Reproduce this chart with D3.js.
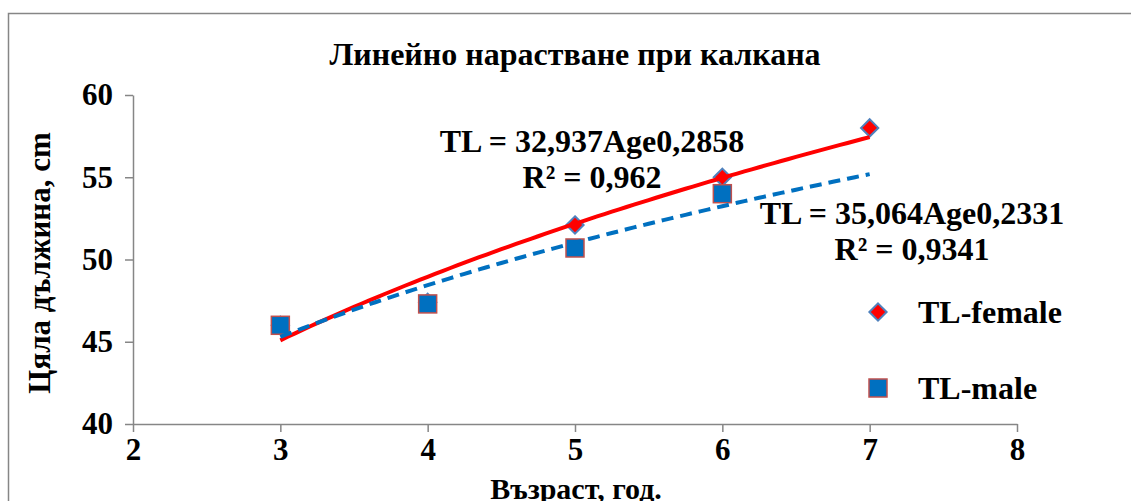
<!DOCTYPE html>
<meta charset="utf-8">
<style>
  body { margin: 0; background: #fff; }
  svg text { font-family: "Liberation Serif", "Times New Roman", serif; font-weight: bold; fill: #000; }
  .axis path, .axis line { stroke: #868686; stroke-width: 1.5; }
  .axis text { font-size: 31px; }
</style>
<body>
<svg width="1131" height="501"></svg>
<script src="https://cdn.jsdelivr.net/npm/d3@7/dist/d3.min.js"></script>
<script>
// data
var ages = [3, 4, 5, 6, 7];
var femaleTL = [46.0, 47.4, 52.1, 55.0, 58.0];
var maleAges = [3, 4, 5, 6];
var maleTL = [46.0, 47.3, 50.7, 54.0];

// power trendlines shown on the chart: TL = a * Age^b
var femaleFit = { a: 32.937, b: 0.2858, from: 3, to: 7 };
var maleFit = { a: 35.064, b: 0.2331, from: 3, to: 7 };

var xTicks = [2, 3, 4, 5, 6, 7, 8];
var yTicks = [40, 45, 50, 55, 60];

var svg = d3.select("svg");

// chart frame
svg.append("rect")
    .attr("x", 8.5).attr("y", 13.5)
    .attr("width", 1140).attr("height", 520)
    .attr("fill", "none")
    .attr("stroke", "#868686")
    .attr("stroke-width", 1.5);

var x = d3.scaleLinear().domain([2, 8]).range([133, 1017]);
var y = d3.scaleLinear().domain([40, 60]).range([424, 95]);

svg.append("g")
    .attr("class", "axis")
    .attr("transform", "translate(0,424)")
    .call(d3.axisBottom(x).tickValues(xTicks).tickFormat(d3.format("d"))
      .tickSize(8).tickSizeOuter(0).tickPadding(6));

svg.append("g")
    .attr("class", "axis")
    .attr("transform", "translate(133,0)")
    .call(d3.axisLeft(y).tickValues(yTicks).tickFormat(d3.format("d"))
      .tickSize(8).tickSizeOuter(0).tickPadding(12));

// title + axis titles
svg.append("text")
    .attr("x", 575).attr("y", 65)
    .attr("text-anchor", "middle")
    .style("font-size", "32px")
    .text("Линейно нарастване при калкана");

svg.append("text")
    .attr("transform", "translate(50,263) rotate(-90)")
    .attr("text-anchor", "middle")
    .style("font-size", "31px")
    .text("Цяла дължина, cm");

svg.append("text")
    .attr("x", 576).attr("y", 499)
    .attr("text-anchor", "middle")
    .style("font-size", "30px")
    .text("Възраст, год.");

// markers
var femaleData = ages.map(function(a, i) { return { age: a, tl: femaleTL[i] }; });
var maleData = maleAges.map(function(a, i) { return { age: a, tl: maleTL[i] }; });

var diamond = d3.symbol().type(d3.symbolDiamond2).size(190);

svg.append("g").selectAll("path")
    .data(femaleData)
    .enter().append("path")
      .attr("d", diamond)
      .attr("transform", function(d) { return "translate(" + x(d.age) + "," + y(d.tl) + ")"; })
      .attr("fill", "#ff0000")
      .attr("stroke", "#4f81bd")
      .attr("stroke-width", 2);

svg.append("g").selectAll("rect")
    .data(maleData)
    .enter().append("rect")
      .attr("x", function(d) { return x(d.age) - 9; })
      .attr("y", function(d) { return y(d.tl) - 9; })
      .attr("width", 18).attr("height", 18)
      .attr("fill", "#0070c0")
      .attr("stroke", "#c0504d")
      .attr("stroke-width", 1.5);

// trendlines
function fitPoints(f) {
  return d3.range(f.from, f.to + 0.001, 0.05).map(function(t) { return [t, f.a * Math.pow(t, f.b)]; });
}
var line = d3.line()
    .x(function(d) { return x(d[0]); })
    .y(function(d) { return y(d[1]); });

svg.append("path")
    .attr("d", line(fitPoints(femaleFit)))
    .attr("fill", "none")
    .attr("stroke", "#ff0000")
    .attr("stroke-width", 4);

svg.append("path")
    .attr("d", line(fitPoints(maleFit)))
    .attr("fill", "none")
    .attr("stroke", "#0070c0")
    .attr("stroke-width", 4)
    .attr("stroke-dasharray", "12,7");

// trendline labels
function eqLabel(cx, cy, lines) {
  var t = svg.append("text")
      .attr("text-anchor", "middle")
      .style("font-size", "32px");
  lines.forEach(function(s, i) {
    t.append("tspan").attr("x", cx).attr("y", cy + i * 36).text(s);
  });
}
eqLabel(592, 152, ["TL = 32,937Age0,2858", "R² = 0,962"]);
eqLabel(912, 224, ["TL = 35,064Age0,2331", "R² = 0,9341"]);

// legend
var legend = svg.append("g");
legend.append("path")
    .attr("d", diamond)
    .attr("transform", "translate(878,312)")
    .attr("fill", "#ff0000")
    .attr("stroke", "#4f81bd")
    .attr("stroke-width", 2);
legend.append("text")
    .attr("x", 918).attr("y", 323)
    .style("font-size", "32px")
    .text("TL-female");
legend.append("rect")
    .attr("x", 869).attr("y", 379)
    .attr("width", 18).attr("height", 18)
    .attr("fill", "#0070c0")
    .attr("stroke", "#c0504d")
    .attr("stroke-width", 1.5);
legend.append("text")
    .attr("x", 918).attr("y", 399)
    .style("font-size", "32px")
    .text("TL-male");
</script>
</body>
